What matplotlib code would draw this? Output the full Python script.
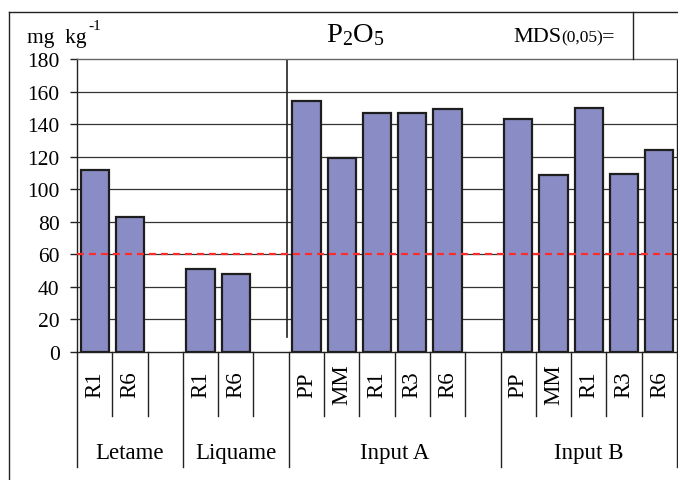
import matplotlib
matplotlib.use('Agg')
import matplotlib.pyplot as plt
from matplotlib.lines import Line2D

# ---------------- data ----------------
groups = ["Letame", "Liquame", "Input A", "Input B"]
letame_labels = ["R1", "R6"]
letame_values = [112, 83]
liquame_labels = ["R1", "R6"]
liquame_values = [51, 48]
input_a_labels = ["PP", "MM", "R1", "R3", "R6"]
input_a_values = [154, 119, 147, 147, 149]
input_b_labels = ["PP", "MM", "R1", "R3", "R6"]
input_b_values = [143, 108.5, 150, 109.5, 124]
blank_after = [1, 1, 1, 0]
mds_level = 60
y_ticks = [0, 20, 40, 60, 80, 100, 120, 140, 160, 180]

plt.rcParams['font.family'] = ['Liberation Serif', 'DejaVu Serif']
plt.rcParams['mathtext.fontset'] = 'custom'
plt.rcParams['mathtext.rm'] = 'Liberation Serif'
plt.rcParams['mathtext.it'] = 'Liberation Serif:italic'

W, H = 678, 481
fig = plt.figure(figsize=(W / 100, H / 100), dpi=100)

ax_l, ax_r, ax_t, ax_b = 77, 677, 60, 352.7
ax = fig.add_axes([ax_l / W, (H - ax_b) / H, (ax_r - ax_l) / W, (ax_b - ax_t) / H])

def fy(px):
    """pixel y (from top) -> axes fraction"""
    return (ax_b - px) / (ax_b - ax_t)

# build slots
group_labels = [letame_labels, liquame_labels, input_a_labels, input_b_labels]
group_values = [letame_values, liquame_values, input_a_values, input_b_values]
positions, labels, values, spans = [], [], [], []
pos = 0
for labs, vals, blank in zip(group_labels, group_values, blank_after):
    start = pos
    for l, v in zip(labs, vals):
        positions.append(pos)
        labels.append(l)
        values.append(v)
        pos += 1
    pos += blank
    spans.append((start - 0.5, pos - 0.5))
n_slots = pos

bar_color = '#8A8DC5'
ax.bar(positions, values, width=0.8, color=bar_color, edgecolor='#1e1e1e',
       linewidth=1.6, zorder=2)

ax.set_xlim(-0.5, n_slots - 0.5)
ax.set_ylim(0, 180)
ax.set_yticks(y_ticks)
ax.set_yticklabels([str(t) for t in y_ticks], fontsize=15.5)
ax.set_xticks([])
ax.tick_params(axis='y', direction='out', length=5, width=1, pad=7.5, color='#222222')
for t in y_ticks[1:-1]:
    ax.axhline(t, color='#333333', lw=0.9, zorder=1)
for side in ['left', 'right', 'top', 'bottom']:
    ax.spines[side].set_linewidth(1.0)
    ax.spines[side].set_color('#222222')
ax.spines['top'].set_color('#666666')

# MDS dashed line
ax.axhline(mds_level, color='#ff2a2a', lw=1.6, ls=(0, (3.1, 2.3)), zorder=3)

# separator between Liquame and Input A in plot area
ax.plot([spans[1][1] - 0.05, spans[1][1] - 0.05], [9, 180], color='#222222', lw=1.2,
        zorder=1.5)

trans = ax.get_xaxis_transform()
# sub labels
for p, l in zip(positions, labels):
    ax.text(p, fy(385), l, rotation=90, ha='center', va='center', fontsize=16.5,
            transform=trans, clip_on=False)

# boundary lines in label area
group_edges = set()
for s, e in spans:
    group_edges.add(s)
    group_edges.add(e)
for k in range(n_slots + 1):
    b = k - 0.5
    bottom = fy(468) if b in group_edges else fy(417)
    ax.plot([b, b], [0, bottom], color='#222222', lw=1.0, transform=trans,
            clip_on=False)

for g, (s, e) in zip(groups, spans):
    ax.text((s + e) / 2, fy(459), g, ha='center', va='baseline', fontsize=16.5,
            transform=trans, clip_on=False)

# outer frame / header
fig.add_artist(Line2D([9 / W, 9 / W], [0, 1 - 13 / H], color='#222222', lw=1.0))
fig.add_artist(Line2D([9 / W, 1], [1 - 13 / H, 1 - 13 / H], color='#222222', lw=1.0))
fig.add_artist(Line2D([633 / W, 633 / W], [1 - 13 / H, 1 - 60 / H], color='#222222', lw=1.0))

# header texts
fig.text(27 / W, 1 - 43 / H, 'mg  kg', fontsize=15.5, ha='left', va='baseline')
fig.text(88 / W, 1 - 30 / H, '-1', fontsize=11, ha='left', va='baseline')
fig.text(355 / W, 1 - 42 / H, r'$\mathrm{P_2O_5}$', fontsize=20.5, ha='center', va='baseline')
fig.text(513 / W, 1 - 42 / H, 'MDS', fontsize=16, ha='left', va='baseline')
fig.text(561 / W, 1 - 42 / H, '(0,05)', fontsize=12.5, ha='left', va='baseline')
fig.text(602 / W, 1 - 42 / H, '=', fontsize=16, ha='left', va='baseline')

fig.savefig('out.png', dpi=100)
